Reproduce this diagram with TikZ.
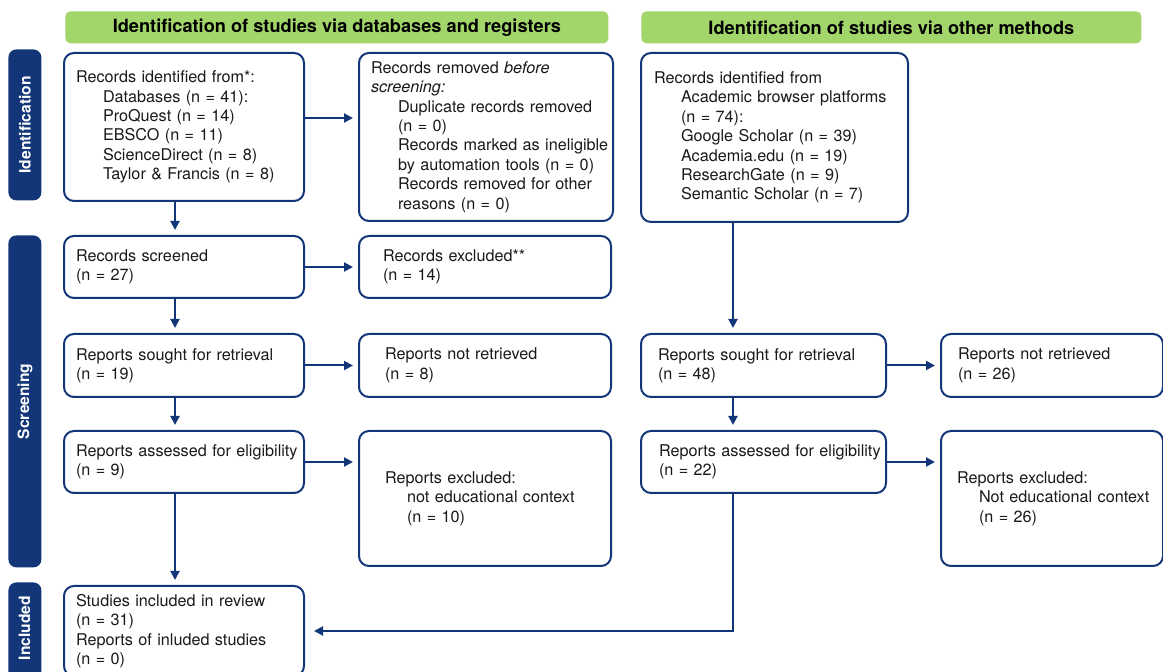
\documentclass[tikz,border=0pt]{standalone}
\usepackage{fontspec}
\setmainfont{TeX Gyre Heros}
\usetikzlibrary{arrows.meta}

\definecolor{prismanavy}{RGB}{18,54,120}
\definecolor{prismagreen}{RGB}{162,213,106}
\definecolor{prismatext}{RGB}{25,25,25}

% indent for sub-items inside the boxes
\newcommand{\subind}{\hspace*{13.5pt}}
\newcommand{\smallind}{\hspace*{11pt}}

\begin{document}
\begin{tikzpicture}[x=0.5pt, y=-0.5pt,
    box/.style={draw=prismanavy, line width=1pt, rounded corners=5pt, anchor=north west,
        align=left, inner ysep=0pt, text=prismatext, font=\fontsize{8.1}{9.7}\selectfont},
    header/.style={fill=prismagreen, rounded corners=2.5pt, anchor=north west, inner sep=0pt,
        minimum height=16pt, font=\fontsize{9.1}{10}\selectfont\bfseries},
    sidebar/.style={fill=prismanavy, rounded corners=4pt, anchor=north west, inner sep=0pt,
        minimum width=16.5pt},
    sidelabel/.style={text=white, rotate=90, font=\fontsize{7.8}{9}\selectfont\bfseries},
    arr/.style={draw=prismanavy, line width=1pt, -{Triangle[length=4.5pt,width=4.5pt]},
        shorten >=2.5pt}
]
\useasboundingbox (0,0) rectangle (1163,672);

% Column headers
\node[header, minimum width=271.5pt] (hdb) at (65,11) {Identification of studies via databases and registers};
\node[header, minimum width=250pt] (hother) at (641,11) {Identification of studies via other methods};

% Phase bars on the left
\node[sidebar, minimum height=75.5pt] (barid) at (8,49) {};
\node[sidelabel] at (barid.center) {Identification};
\node[sidebar, minimum height=166pt] (barscr) at (8,235) {};
\node[sidelabel] at (barscr.center) {Screening};
\node[sidebar, minimum height=60pt] (barinc) at (8,582) {};
\node[sidelabel] at (24.5,628) {Included};

% Databases and registers column
\node[box, minimum width=120pt, minimum height=74pt, inner xsep=6pt, text width=108pt] (dbid) at (63,52) {
    Records identified from*:\\
    \subind Databases (n = 41):\\
    \subind ProQuest (n = 14)\\
    \subind EBSCO (n = 11)\\
    \subind ScienceDirect (n = 8)\\
    \subind Taylor \& Francis (n = 8)};

\node[box, minimum width=127pt, minimum height=84pt, inner xsep=6pt, text width=115pt] (dbrem) at (358,52) {
    Records removed \textit{before}\\
    \textit{screening:}\\
    \subind Duplicate records removed\\
    \subind (n = 0)\\
    \subind\mbox{Records marked as ineligible}\\
    \subind by automation tools (n = 0)\\
    \subind Records removed for other\\
    \subind reasons (n = 0)};

\node[box, minimum width=120pt, minimum height=31pt, inner xsep=6pt, text width=108pt] (dbscr) at (63,235) {
    Records screened\\(n = 27)};
\node[box, minimum width=126pt, minimum height=31pt, inner xsep=12pt, text width=102pt] (dbexcl) at (358,235) {
    Records excluded**\\(n = 14)};

\node[box, minimum width=120pt, minimum height=31.5pt, inner xsep=6pt, text width=108pt] (dbsought) at (63,333) {
    Reports sought for retrieval\\(n = 19)};
\node[box, minimum width=126pt, minimum height=31.5pt, inner xsep=13pt, text width=100pt] (dbnotret) at (358,333) {
    Reports not retrieved\\(n = 8)};

\node[box, minimum width=120pt, minimum height=31pt, inner xsep=6pt, text width=108pt] (dbassess) at (63,430) {
    \mbox{Reports assessed for eligibility}\\(n = 9)};
\node[box, minimum width=126pt, minimum height=67.5pt, inner xsep=13pt, text width=100pt] (dbrepexcl) at (358,430) {
    Reports excluded:\\
    \smallind not educational context\\
    \smallind (n = 10)};

\node[box, minimum width=120pt, minimum height=45pt, inner xsep=6pt, text width=108pt] (incl) at (63,585) {
    Studies included in review\\
    (n = 31)\\
    Reports of inluded studies\\
    (n = 0)};

% Other methods column
\node[box, minimum width=133.5pt, minimum height=84.5pt, inner xsep=6.5pt, text width=120.5pt] (oid) at (640,52) {
    Records identified from\\
    \subind Academic browser platforms\\
    \subind (n = 74):\\
    \subind Google Scholar (n = 39)\\
    \subind Academia.edu (n = 19)\\
    \subind ResearchGate (n = 9)\\
    \subind Semantic Scholar (n = 7)};

\node[box, minimum width=122.5pt, minimum height=31.5pt, inner xsep=8.5pt, text width=105.5pt] (osought) at (640,333) {
    Reports sought for retrieval\\(n = 48)};
\node[box, minimum width=111pt, minimum height=31.5pt, inner xsep=8.5pt, text width=94pt] (onotret) at (940,333) {
    Reports not retrieved\\(n = 26)};

\node[box, minimum width=122.5pt, minimum height=31pt, inner xsep=9pt, text width=104.5pt] (oassess) at (640,430) {
    \mbox{Reports assessed for eligibility}\\(n = 22)};
\node[box, minimum width=111pt, minimum height=67.5pt, inner xsep=8pt, text width=95pt] (orepexcl) at (940,430) {
    Reports excluded:\\
    \smallind\mbox{Not educational context}\\
    \smallind (n = 26)};

% Vertical flow lines
\coordinate (dbcol) at (175,0);
\coordinate (ocol) at (733,0);

\draw[arr] (dbid.south -| dbcol) -- (dbscr.north -| dbcol);
\draw[arr] (dbscr.south -| dbcol) -- (dbsought.north -| dbcol);
\draw[arr] (dbsought.south -| dbcol) -- (dbassess.north -| dbcol);
\draw[arr] (dbassess.south -| dbcol) -- (incl.north -| dbcol);

\draw[arr] (oid.south -| ocol) -- (osought.north -| ocol);
\draw[arr] (osought.south -| ocol) -- (oassess.north -| ocol);
\draw[arr, shorten >=4.5pt] (oassess.south -| ocol) |- (incl.east);

% Exclusion arrows
\draw[arr] ([yshift=4.5pt]dbid.east) -- ([yshift=4.5pt]dbid.east -| dbrem.west);
\draw[arr] (dbscr.east) -- (dbscr.east -| dbexcl.west);
\draw[arr] (dbsought.east) -- (dbsought.east -| dbnotret.west);
\draw[arr] (dbassess.east) -- (dbassess.east -| dbrepexcl.west);
\draw[arr] (osought.east) -- (osought.east -| onotret.west);
\draw[arr] (oassess.east) -- (oassess.east -| orepexcl.west);

\end{tikzpicture}
\end{document}
